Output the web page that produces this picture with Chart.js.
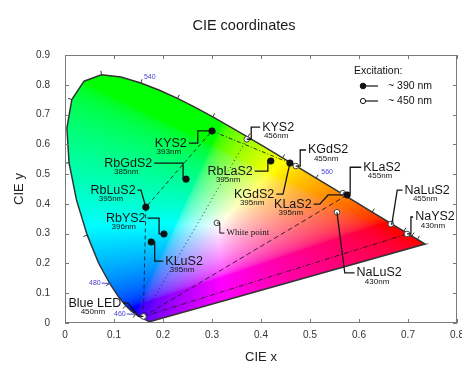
<!DOCTYPE html>
<html>
<head>
<meta charset="utf-8">
<title>CIE coordinates</title>
<script src="https://cdn.jsdelivr.net/npm/chart.js@4.4.0/dist/chart.umd.min.js"></script>
<style>
  html, body { margin: 0; padding: 0; background: #fff; }
</style>
</head>
<body>
<canvas id="chart" width="462" height="365"></canvas>
<script>
// CIE 1931 2° spectral locus (nm, x, y)
const locusNm = [380,385,390,395,400,405,410,415,420,425,430,435,440,445,450,455,460,465,470,475,
  480,485,490,495,500,505,510,515,520,525,530,535,540,545,550,555,560,565,570,575,
  580,585,590,595,600,605,610,615,620,625,630,635,640,645,650,655,660,665,670,675,
  680,685,690,695,700];
const locusX = [0.1741,0.1740,0.1738,0.1736,0.1733,0.1730,0.1726,0.1721,0.1714,0.1703,0.1689,0.1669,0.1644,0.1611,0.1566,0.1510,0.1440,0.1355,0.1241,0.1096,
  0.0913,0.0687,0.0454,0.0235,0.0082,0.0039,0.0139,0.0389,0.0743,0.1142,0.1547,0.1929,0.2296,0.2658,0.3016,0.3373,0.3731,0.4087,0.4441,0.4788,
  0.5125,0.5448,0.5752,0.6029,0.6270,0.6482,0.6658,0.6801,0.6915,0.7006,0.7079,0.7140,0.7190,0.7230,0.7260,0.7283,0.7300,0.7311,0.7320,0.7327,
  0.7334,0.7340,0.7344,0.7346,0.7347];
const locusY = [0.0050,0.0050,0.0049,0.0049,0.0048,0.0048,0.0048,0.0048,0.0051,0.0058,0.0069,0.0086,0.0109,0.0138,0.0177,0.0227,0.0297,0.0399,0.0578,0.0868,
  0.1327,0.2007,0.2950,0.4127,0.5384,0.6548,0.7502,0.8120,0.8338,0.8262,0.8059,0.7816,0.7543,0.7243,0.6923,0.6589,0.6245,0.5896,0.5547,0.5202,
  0.4866,0.4544,0.4242,0.3965,0.3725,0.3514,0.3340,0.3197,0.3083,0.2993,0.2920,0.2859,0.2809,0.2770,0.2740,0.2717,0.2700,0.2689,0.2680,0.2673,
  0.2666,0.2660,0.2656,0.2654,0.2653];

const xTickLabels = ['0','0.1','0.2','0.3','0.4','0.5','0.6','0.7','0.8'];
const yTickLabels = ['0','0.1','0.2','0.3','0.4','0.5','0.6','0.7','0.8','0.9'];

// phosphors under ~390 nm excitation
const uvNames = ['KYS2','RbGdS2','RbLuS2','RbYS2','KLuS2','RbLaS2','KGdS2','KLaS2'];
const uvPeaks = ['393nm','385nm','395nm','396nm','395nm','395nm','395nm','395nm'];
const uvX = [0.300,0.247,0.165,0.202,0.176,0.420,0.459,0.576];
const uvY = [0.645,0.483,0.389,0.299,0.272,0.544,0.537,0.430];

// phosphors under ~450 nm excitation, plus white point and the LED itself
const blueNames = ['KYS2','KGdS2','KLaS2','NaLuS2','NaYS2','NaLuS2','White point','Blue LED'];
const bluePeaks = ['456nm','455nm','455nm','455nm','430nm','430nm','','450nm'];
const blueX = [0.371,0.471,0.567,0.665,0.698,0.555,0.310,0.160];
const blueY = [0.617,0.527,0.436,0.332,0.299,0.372,0.336,0.022];

const wlLabels = ['540','560','480','460'];

// ---- layout ----
const FONT = '"Liberation Sans", Arial, Helvetica, sans-serif';
const LED = 7;

// label centre (data units), side the leader leaves from, leader knee x positions
const uvCallouts = [
  {tx:0.216, ty:0.604, side:'right', ex:0.271},
  {tx:0.129, ty:0.537, side:'right', ex:0.241},
  {tx:0.098, ty:0.446, side:'right', ex:0.155, ex2:0.165},
  {tx:0.124, ty:0.352, side:'right', ex:0.192},
  {tx:0.243, ty:0.208, side:'left',  ex:0.183},
  {tx:0.337, ty:0.510, side:'right', ex:0.414},
  {tx:0.386, ty:0.433, side:'right', ex:0.445, ex2:0.459},
  {tx:0.465, ty:0.399, side:'right', ex:0.520, ex2:0.537}
];
const blueCallouts = [
  {tx:0.435, ty:0.658, side:'left', ex:0.380},
  {tx:0.537, ty:0.581, side:'left', ex:0.480},
  {tx:0.647, ty:0.523, side:'left', ex:0.582},
  {tx:0.739, ty:0.446, side:'left', ex:0.678, ex2:0.667},
  {tx:0.755, ty:0.356, side:'left', ex:0.706},
  {tx:0.641, ty:0.168, side:'left', ex:0.571, ex2:0.555},
  {tx:0.373, ty:0.302, side:'left', ex:0.316, small:true},
  {tx:0.061, ty:0.067, side:'right', ex:0.129, ex2:0.150}
];
const wlLabelPos = [
  {x:0.173, y:0.826},
  {x:0.535, y:0.507},
  {x:0.061, y:0.134, to:480},
  {x:0.112, y:0.030, to:460}
];

// mixing lines from the LED to the phosphors
const guides = [
  {pts:[['b',LED],['u',2],['u',0]], dash:[4,3]},
  {pts:[['b',LED],['b',0]], dash:[1,3]},
  {pts:[['u',0],['u',6]], dash:[4,2,1,2]},
  {pts:[['b',LED],['u',7]], dash:[5,3]},
  {pts:[['b',LED],['b',4]], dash:[5,2,1,2]}
];

function xy(set, i) {
  return set === 'u' ? {x: uvX[i], y: uvY[i]} : {x: blueX[i], y: blueY[i]};
}

function srgb(c) {
  return c <= 0.0031308 ? 12.92 * c : 1.055 * Math.pow(c, 1 / 2.4) - 0.055;
}

// chromaticity -> display colour, full brightness
function chromaColor(x, y) {
  if (y <= 0) return [255, 255, 255];
  const X = x / y, Y = 1, Z = (1 - x - y) / y;
  let r = 3.2406 * X - 1.5372 * Y - 0.4986 * Z;
  let g = -0.9689 * X + 1.8758 * Y + 0.0415 * Z;
  let b = 0.0557 * X - 0.2040 * Y + 1.0570 * Z;
  r = Math.max(r, 0); g = Math.max(g, 0); b = Math.max(b, 0);
  const m = Math.max(r, g, b) || 1;
  return [srgb(r / m) * 255, srgb(g / m) * 255, srgb(b / m) * 255];
}

function locusPath(ctx, sx, sy) {
  ctx.beginPath();
  locusX.forEach((lx, i) => {
    const px = sx.getPixelForValue(lx), py = sy.getPixelForValue(locusY[i]);
    if (i === 0) ctx.moveTo(px, py); else ctx.lineTo(px, py);
  });
  ctx.closePath();
}

const gamutFill = {
  id: 'gamutFill',
  beforeDatasetsDraw(chart) {
    const {ctx, chartArea: a, scales: {x: sx, y: sy}} = chart;
    const w = Math.round(a.right - a.left), h = Math.round(a.bottom - a.top);
    if (!this.img || this.img.width !== w || this.img.height !== h) {
      const off = document.createElement('canvas');
      off.width = w; off.height = h;
      const octx = off.getContext('2d');
      const data = octx.createImageData(w, h);
      for (let j = 0; j < h; j++) {
        const cy = sy.getValueForPixel(a.top + j + 0.5);
        for (let i = 0; i < w; i++) {
          const cx = sx.getValueForPixel(a.left + i + 0.5);
          const c = chromaColor(cx, cy);
          const k = (j * w + i) * 4;
          data.data[k] = c[0]; data.data[k + 1] = c[1]; data.data[k + 2] = c[2]; data.data[k + 3] = 255;
        }
      }
      octx.putImageData(data, 0, 0);
      this.img = off;
    }
    ctx.save();
    locusPath(ctx, sx, sy);
    ctx.clip();
    ctx.drawImage(this.img, a.left, a.top);
    ctx.restore();

    // wavelength ticks on the locus, every 10 nm
    ctx.save();
    ctx.strokeStyle = '#333';
    ctx.lineWidth = 1;
    for (let i = 1; i < locusNm.length - 1; i++) {
      const nm = locusNm[i];
      if (nm % 10 !== 0 || nm < 460 || nm > 640) continue;
      const p0x = sx.getPixelForValue(locusX[i - 1]), p0y = sy.getPixelForValue(locusY[i - 1]);
      const p1x = sx.getPixelForValue(locusX[i + 1]), p1y = sy.getPixelForValue(locusY[i + 1]);
      const px = sx.getPixelForValue(locusX[i]), py = sy.getPixelForValue(locusY[i]);
      let dx = p1x - p0x, dy = p1y - p0y;
      const len = Math.hypot(dx, dy) || 1;
      const nx = dy / len, ny = -dx / len;
      ctx.beginPath();
      ctx.moveTo(px, py);
      ctx.lineTo(px + nx * 4, py + ny * 4);
      ctx.stroke();
    }
    ctx.restore();
  }
};

function drawCallout(ctx, sx, sy, name, sub, c, p) {
  const tx = sx.getPixelForValue(c.tx), ty = sy.getPixelForValue(c.ty);
  const px = sx.getPixelForValue(p.x), py = sy.getPixelForValue(p.y);
  ctx.fillStyle = '#151515';
  ctx.textAlign = 'center';
  ctx.textBaseline = 'middle';
  ctx.font = c.small ? '9px "Liberation Serif", "Times New Roman", serif' : '12.5px ' + FONT;
  const w = ctx.measureText(name).width;
  ctx.fillText(name, tx, ty);
  if (sub) {
    ctx.font = '8px ' + FONT;
    ctx.fillText(sub, tx - 2, ty + 9);
  }
  const dir = c.side === 'right' ? 1 : -1;
  const x0 = tx + dir * (w / 2 + 2);
  const ex = sx.getPixelForValue(c.ex);
  const ex2 = c.ex2 != null ? sx.getPixelForValue(c.ex2) : ex;
  ctx.strokeStyle = '#151515';
  ctx.lineWidth = c.small ? 1 : 1.3;
  ctx.setLineDash([]);
  ctx.beginPath();
  ctx.moveTo(x0, ty);
  ctx.lineTo(ex, ty);
  ctx.lineTo(ex2, py);
  ctx.lineTo(px, py);
  ctx.stroke();
}

const annotations = {
  id: 'annotations',
  afterDatasetsDraw(chart) {
    const {ctx, chartArea: a, scales: {x: sx, y: sy}} = chart;
    ctx.save();
    uvCallouts.forEach((c, i) => drawCallout(ctx, sx, sy, uvNames[i], uvPeaks[i], c, xy('u', i)));
    blueCallouts.forEach((c, i) => drawCallout(ctx, sx, sy, blueNames[i], bluePeaks[i], c, xy('b', i)));

    // wavelength labels
    ctx.font = '7px ' + FONT;
    ctx.fillStyle = '#4b3fd6';
    ctx.strokeStyle = '#4b3fd6';
    ctx.lineWidth = 1;
    ctx.textAlign = 'center';
    ctx.textBaseline = 'middle';
    wlLabels.forEach((t, i) => {
      const pos = wlLabelPos[i];
      const lx = sx.getPixelForValue(pos.x), ly = sy.getPixelForValue(pos.y);
      ctx.fillText(t, lx, ly);
      if (pos.to) {
        const k = locusNm.indexOf(pos.to);
        const w = ctx.measureText(t).width;
        ctx.beginPath();
        ctx.moveTo(lx + w / 2 + 1, ly);
        ctx.lineTo(sx.getPixelForValue(locusX[k]), sy.getPixelForValue(locusY[k]));
        ctx.stroke();
      }
    });

    // legend
    const lx = a.right - 103, ly = a.top + 16;
    ctx.fillStyle = '#111';
    ctx.textAlign = 'left';
    ctx.font = '10.5px ' + FONT;
    ctx.fillText('Excitation:', lx, ly);
    [['~ 390 nm', true], ['~ 450 nm', false]].forEach(([txt, filled], r) => {
      const y = ly + 15 * (r + 1);
      ctx.strokeStyle = '#111';
      ctx.lineWidth = 1.2;
      ctx.beginPath();
      ctx.moveTo(lx + 9, y);
      ctx.lineTo(lx + 24, y);
      ctx.stroke();
      ctx.beginPath();
      ctx.arc(lx + 9, y, filled ? 2.8 : 2.6, 0, Math.PI * 2);
      ctx.fillStyle = filled ? '#111' : '#fff';
      ctx.fill();
      ctx.lineWidth = 1;
      ctx.stroke();
      ctx.fillStyle = '#111';
      ctx.fillText(txt, lx + 34, y);
    });
    ctx.restore();
  },
  afterDraw(chart) {
    const {ctx, chartArea: a, scales: {x: sx, y: sy}} = chart;
    ctx.save();
    // frame with inward ticks
    ctx.strokeStyle = '#7a7a7a';
    ctx.lineWidth = 1;
    ctx.strokeRect(a.left + 0.5, a.top + 0.5, a.right - a.left - 1, a.bottom - a.top - 1);
    ctx.beginPath();
    sx.ticks.forEach(t => {
      const px = Math.round(sx.getPixelForValue(t.value)) + 0.5;
      ctx.moveTo(px, a.top); ctx.lineTo(px, a.top + 4);
      ctx.moveTo(px, a.bottom); ctx.lineTo(px, a.bottom - 4);
    });
    sy.ticks.forEach(t => {
      const py = Math.round(sy.getPixelForValue(t.value)) + 0.5;
      ctx.moveTo(a.left, py); ctx.lineTo(a.left + 4, py);
      ctx.moveTo(a.right, py); ctx.lineTo(a.right - 4, py);
    });
    ctx.stroke();

    // title
    ctx.fillStyle = '#1a1a1a';
    ctx.font = '14.5px ' + FONT;
    ctx.textAlign = 'center';
    ctx.textBaseline = 'middle';
    ctx.fillText('CIE coordinates', 244, 26);
    ctx.restore();
  }
};

const datasets = [
  {
    data: uvX.map((v, i) => ({x: v, y: uvY[i]})),
    pointRadius: 3.3, pointBackgroundColor: '#111', pointBorderColor: '#111', pointBorderWidth: 0.5,
    showLine: false
  },
  {
    data: blueX.map((v, i) => ({x: v, y: blueY[i]})),
    pointRadius: 2.8, pointBackgroundColor: '#fff', pointBorderColor: '#444', pointBorderWidth: 1,
    showLine: false
  },
  {
    data: locusX.concat([locusX[0]]).map((v, i) => ({x: v, y: locusY.concat([locusY[0]])[i]})),
    showLine: true, borderColor: '#333', borderWidth: 1.5, pointRadius: 0, tension: 0
  }
].concat(guides.map(g => ({
  data: g.pts.map(([s, i]) => xy(s, i)),
  showLine: true, borderColor: 'rgba(30,20,30,0.85)', borderWidth: 1, borderDash: g.dash,
  pointRadius: 0, tension: 0
})));

function createChart() {
  new Chart(document.getElementById('chart'), {
    type: 'scatter',
    data: { datasets: datasets },
    options: {
      responsive: false,
      animation: false,
      devicePixelRatio: 1,
      layout: { padding: { top: 55, left: 8, right: 5, bottom: 0 } },
      plugins: {
        legend: { display: false },
        tooltip: { enabled: false },
        title: { display: false }
      },
      scales: {
        x: {
          type: 'linear', min: 0, max: 0.8,
          grid: { display: false, drawTicks: false },
          border: { display: false },
          ticks: {
            stepSize: 0.1, padding: 6, color: '#333', font: { family: FONT, size: 10 },
            callback: (v, i) => xTickLabels[i]
          },
          title: { display: true, text: 'CIE x', color: '#222', font: { family: FONT, size: 13 }, padding: 0 },
          afterFit(s) { s.height = 42; s.paddingLeft = 0; s.paddingRight = 0; }
        },
        y: {
          type: 'linear', min: 0, max: 0.9,
          grid: { display: false, drawTicks: false },
          border: { display: false },
          ticks: {
            stepSize: 0.1, padding: 15, color: '#333', font: { family: FONT, size: 10 },
            callback: (v, i) => yTickLabels[i]
          },
          title: { display: true, text: 'CIE y', color: '#222', font: { family: FONT, size: 13 }, padding: 4 },
          afterFit(s) { s.width = 57; s.paddingTop = 0; s.paddingBottom = 0; }
        }
      }
    },
    plugins: [gamutFill, annotations]
  });
}

document.addEventListener('DOMContentLoaded', createChart);
</script>
</body>
</html>
